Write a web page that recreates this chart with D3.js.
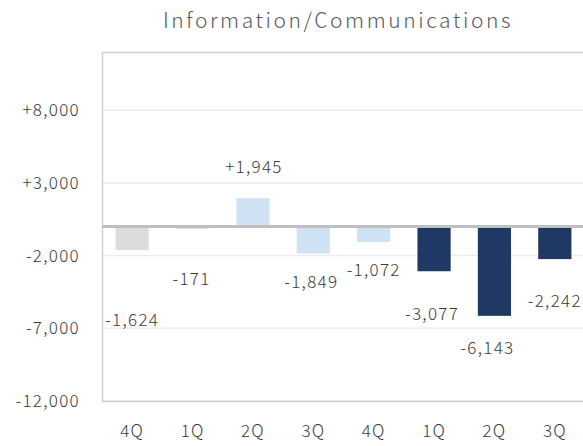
<!DOCTYPE html>
<html lang="en">
<head>
    <meta charset="utf-8">
    <title>Information/Communications</title>
    <script type="text/javascript" src="https://cdnjs.cloudflare.com/ajax/libs/d3/7.8.5/d3.min.js"></script>
    <style>
      body { margin: 0; background: #fff; }
      text { font-family: "Noto Sans CJK JP", "Noto Sans", sans-serif; font-weight: 300; }
    </style>
</head>
<body>
    <script type="text/javascript">
    //chart data
    var quarters = ["4Q", "1Q", "2Q", "3Q", "4Q", "1Q", "2Q", "3Q"];
    var values = [-1624, -171, 1945, -1849, -1072, -3077, -6143, -2242];
    var groups = ["prev", "mid", "mid", "mid", "mid", "cur", "cur", "cur"];
    var yTicks = [8000, 3000, -2000, -7000, -12000];

    //dimensions
    var W = 583, H = 446;
    var margin = {top: 52, left: 102, bottom: 45},
        plotW = 483,
        plotH = H - margin.top - margin.bottom;

    var colors = {prev: "#dcdcdc", mid: "#cfe2f3", cur: "#1f3864"};

    //label nudges in px (labels were hand placed in the source)
    var labelDx = [0, -1, 1, -2, 0, -2, -7, 0];
    var labelDy = [70, 50, -31, 29, 28, 43, 32, 42];

    //plain hyphen, not the unicode minus d3 uses
    var fmt = function(d) {
      return (d > 0 ? "+" : d < 0 ? "-" : "") + d3.format(",")(Math.abs(d));
    };

    var svg = d3.select("body").append("svg")
        .attr("width", W)
        .attr("height", H);

    var x = d3.scaleBand()
        .domain(d3.range(quarters.length))
        .range([margin.left, margin.left + plotW])
        .paddingInner(0.45)
        .paddingOuter(0.225);

    var y = d3.scaleLinear()
        .domain([-12000, 12000])
        .range([margin.top + plotH, margin.top]);

    //title
    svg.append("text")
       .attr("x", 338)
       .attr("y", 28)
       .attr("text-anchor", "middle")
       .attr("fill", "#595959")
       .attr("font-size", 21)
       .attr("letter-spacing", 2.6)
       .text("Information/Communications");

    //gridlines
    svg.selectAll("line.grid")
       .data(yTicks)
       .enter().append("line")
       .attr("class", "grid")
       .attr("x1", margin.left)
       .attr("x2", W)
       .attr("y1", function(d) { return y(d); })
       .attr("y2", function(d) { return y(d); })
       .attr("stroke", "#ececec")
       .attr("stroke-width", 1.5);

    //plot border
    svg.append("path")
       .attr("d", "M" + W + "," + (margin.top + 0.5) + "H" + (margin.left + 0.5) +
                  "V" + (margin.top + plotH + 0.5) + "H" + W)
       .attr("fill", "none")
       .attr("stroke", "#d0d0d0")
       .attr("stroke-width", 1.5);

    //y axis labels
    var yAxis = d3.axisLeft(y)
        .tickValues(yTicks)
        .tickSize(0)
        .tickPadding(22)
        .tickFormat(fmt);

    var gy = svg.append("g")
       .attr("transform", "translate(" + margin.left + ",0)")
       .call(yAxis);
    gy.select(".domain").remove();
    gy.attr("font-family", null);
    gy.selectAll("text")
      .attr("font-size", 17)
      .attr("letter-spacing", 1.3)
      .attr("fill", "#3a3a3a");

    //x axis labels
    var xAxis = d3.axisBottom(x)
        .tickSize(0)
        .tickPadding(24)
        .tickFormat(function(i) { return quarters[i]; });

    var gx = svg.append("g")
       .attr("transform", "translate(0," + (margin.top + plotH) + ")")
       .call(xAxis);
    gx.select(".domain").remove();
    gx.attr("font-family", null);
    gx.selectAll("text")
      .attr("font-size", 17)
      .attr("letter-spacing", 1.2)
      .attr("fill", "#3a3a3a");

    //bars
    svg.selectAll("rect.bar")
       .data(values)
       .enter().append("rect")
       .attr("class", "bar")
       .attr("x", function(d, i) { return x(i); })
       .attr("width", x.bandwidth())
       .attr("y", function(d) { return y(Math.max(0, d)); })
       .attr("height", function(d) { return Math.abs(y(d) - y(0)); })
       .attr("fill", function(d, i) { return colors[groups[i]]; });

    //zero line
    svg.append("line")
       .attr("x1", margin.left)
       .attr("x2", W)
       .attr("y1", y(0))
       .attr("y2", y(0))
       .attr("stroke", "#bfbfbf")
       .attr("stroke-width", 3);

    //value labels
    svg.selectAll("text.val")
       .data(values)
       .enter().append("text")
       .attr("class", "val")
       .attr("x", function(d, i) { return x(i) + x.bandwidth() / 2 + labelDx[i]; })
       .attr("y", function(d, i) { return y(d) + labelDy[i]; })
       .attr("dy", "0.35em")
       .attr("text-anchor", "middle")
       .attr("font-size", 17)
       .attr("letter-spacing", 1.3)
       .attr("fill", "#3a3a3a")
       .text(fmt);
    </script>
</body>
</html>
